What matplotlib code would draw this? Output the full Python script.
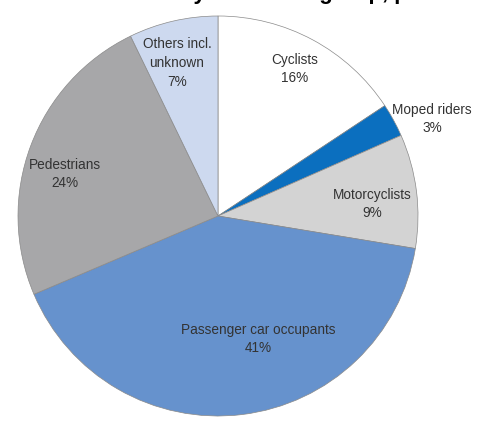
import matplotlib
matplotlib.use("Agg")
import matplotlib.pyplot as plt

# slice data, clockwise from 12 o'clock
groups = ["Cyclists", "Moped riders", "Motorcyclists",
          "Passenger car occupants", "Pedestrians", "Others incl.\nunknown"]
shares = [15.7, 2.7, 9.2, 41.0, 24.2, 7.2]
share_labels = ["16%", "3%", "9%", "41%", "24%", "7%"]
colors = ["#ffffff", "#0b6fbf", "#d3d3d3", "#6692cd", "#a7a7a9", "#cdd9ef"]

# label centres in image pixels (x, y from top)
label_px = [(295, 69), (432, 119), (372, 204), (258, 339), (65, 174), (177, 63)]

W, H = 478, 428
fig = plt.figure(figsize=(W / 100, H / 100), dpi=100)
ax = fig.add_axes([0, 0, 1, 1])

ax.pie(shares, colors=colors, startangle=90, counterclock=False,
       center=(218, H - 216), radius=200, frame=True,
       wedgeprops=dict(edgecolor="#8a8a8a", linewidth=0.5))
ax.set_xlim(0, W)
ax.set_ylim(0, H)
ax.set_aspect("equal")
ax.axis("off")

fam = ["Liberation Sans Narrow", "Liberation Sans", "DejaVu Sans"]
for name, pct, (x, y) in zip(groups, share_labels, label_px):
    ax.text(x, H - y, name + "\n" + pct, ha="center", va="center",
            fontsize=9.8, color="#333333", family=fam, linespacing=1.45)

# title sits mostly above the crop, only descenders show
fig.text(0.56, 1.0 - 4 / H, "Road fatalities by road user group, percentage",
         ha="center", va="bottom", fontsize=16, fontweight="bold",
         color="black", family=["Liberation Sans", "DejaVu Sans"])

fig.savefig("out.png", dpi=100)
